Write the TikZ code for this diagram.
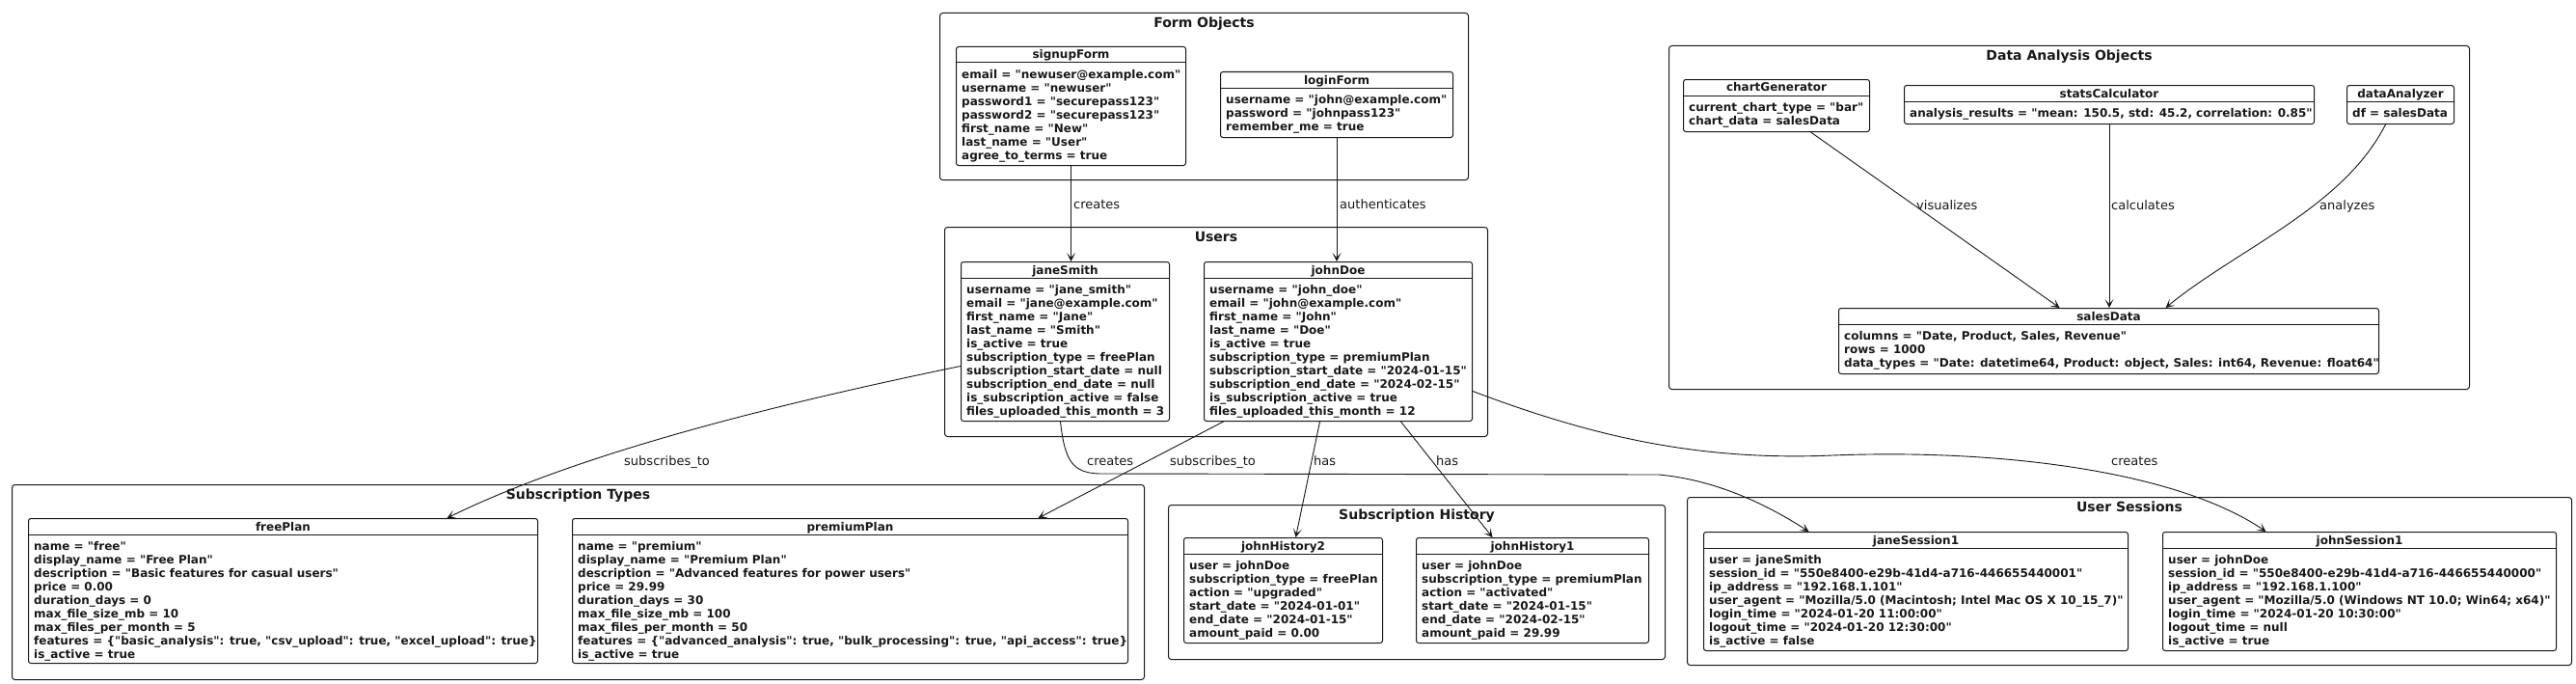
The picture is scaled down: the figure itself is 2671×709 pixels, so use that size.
\documentclass[tikz,border=0pt]{standalone}
\usepackage{fontspec}
\setmainfont{DejaVu Sans}[Ligatures=TeXOff]
\usetikzlibrary{arrows.meta}
\definecolor{ink}{HTML}{181818}
\tikzset{
 pkg/.style={draw=ink, line width=1pt, rounded corners=3pt, inner sep=0pt},
 objbox/.style={draw=ink, line width=1pt, rounded corners=2.5pt, inner sep=0pt, fill=white},
 objline/.style={draw=ink, line width=1pt},
 objhead/.style={font=\fontsize{12}{14}\selectfont\bfseries, inner sep=0pt, anchor=base, text=ink},
 objattr/.style={font=\fontsize{12}{14}\selectfont\bfseries, inner sep=0pt, align=left, anchor=north west, text=ink},
 pkgtitle/.style={font=\fontsize{14}{16}\selectfont\bfseries, inner sep=0pt, anchor=base, text=ink},
 conn/.style={draw=ink, line width=0.9pt, -{Stealth[length=9pt,width=9pt,inset=5pt]}},
 lbl/.style={font=\fontsize{13}{15}\selectfont, inner sep=0pt, anchor=base west, text=ink},
}
\newcommand{\umlobj}[7]{%
 \node[objbox, anchor=north west, minimum width=#4pt-#2pt, minimum height=#5pt-#3pt] (#1) at (#2,#3) {};
 \draw[objline] ([yshift=-17pt]#1.north west) -- ([yshift=-17pt]#1.north east);
 \node[objhead] (#1-head) at ([yshift=-13pt]#1.north) {#6};
 \node[objattr] (#1-attr) at ([xshift=6pt,yshift=-23pt]#1.north west) {\rule{0pt}{10pt}#7};
}
\newcommand{\umlpkg}[6]{%
 \node[pkg, anchor=north west, minimum width=#4pt-#2pt, minimum height=#5pt-#3pt] (#1) at (#2,#3) {};
 \node[pkgtitle] (#1-title) at ([yshift=-15.5pt]#1.north) {#6};
}
\begin{document}
\begin{tikzpicture}[x=1pt,y=-1pt]
\fill[white] (0,0) rectangle (2671,709);
\useasboundingbox (0,0) rectangle (2671,709);

% ---------- Form Objects
\umlpkg{formPkg}{974}{13}{1522}{186}{Form Objects}
\umlobj{signupForm}{991}{48}{1229}{171}{signupForm}{email = "newuser@example.com"\\username = "newuser"\\password1 = "securepass123"\\password2 = "securepass123"\\first\_name = "New"\\last\_name = "User"\\agree\_to\_terms = true}
\umlobj{loginForm}{1265}{74}{1506}{142}{loginForm}{username = "john@example.com"\\password = "johnpass123"\\remember\_me = true}

% ---------- Users
\umlpkg{usersPkg}{979}{235}{1542}{452}{Users}
\umlobj{janeSmith}{996}{271}{1212}{436}{janeSmith}{username = "jane\_smith"\\email = "jane@example.com"\\first\_name = "Jane"\\last\_name = "Smith"\\is\_active = true\\subscription\_type = freePlan\\subscription\_start\_date = null\\subscription\_end\_date = null\\is\_subscription\_active = false\\files\_uploaded\_this\_month = 3}
\umlobj{johnDoe}{1248}{271}{1526}{436}{johnDoe}{username = "john\_doe"\\email = "john@example.com"\\first\_name = "John"\\last\_name = "Doe"\\is\_active = true\\subscription\_type = premiumPlan\\subscription\_start\_date = "2024-01-15"\\subscription\_end\_date = "2024-02-15"\\is\_subscription\_active = true\\files\_uploaded\_this\_month = 12}

% ---------- Data Analysis Objects
\umlpkg{dataPkg}{1730}{47}{2560}{403}{Data Analysis Objects}
\umlobj{chartGenerator}{1745}{82}{1938}{136}{chartGenerator}{current\_chart\_type = "bar"\\chart\_data = salesData}
\umlobj{statsCalculator}{1974}{88}{2399}{128}{statsCalculator}{analysis\_results = "mean: 150.5, std: 45.2, correlation: 0.85"}
\umlobj{dataAnalyzer}{2433}{88}{2544}{128}{dataAnalyzer}{df = salesData}
\umlobj{salesData}{1906}{319}{2466}{387}{salesData}{columns = "Date, Product, Sales, Revenue"\\rows = 1000\\data\_types = "Date: datetime64, Product: object, Sales: int64, Revenue: float64"}

% ---------- Subscription Types
\umlpkg{typesPkg}{12}{502}{1186}{704}{Subscription Types}
\umlobj{freePlan}{29}{537}{557}{687}{freePlan}{name = "free"\\display\_name = "Free Plan"\\description = "Basic features for casual users"\\price = 0.00\\duration\_days = 0\\max\_file\_size\_mb = 10\\max\_files\_per\_month = 5\\features = \{"basic\_analysis": true, "csv\_upload": true, "excel\_upload": true\}\\is\_active = true}
\umlobj{premiumPlan}{593}{537}{1169}{687}{premiumPlan}{name = "premium"\\display\_name = "Premium Plan"\\description = "Advanced features for power users"\\price = 29.99\\duration\_days = 30\\max\_file\_size\_mb = 100\\max\_files\_per\_month = 50\\features = \{"advanced\_analysis": true, "bulk\_processing": true, "api\_access": true\}\\is\_active = true}

% ---------- Subscription History
\umlpkg{historyPkg}{1211}{523}{1726}{683}{Subscription History}
\umlobj{johnHistory2}{1227}{557}{1433}{666}{johnHistory2}{user = johnDoe\\subscription\_type = freePlan\\action = "upgraded"\\start\_date = "2024-01-01"\\end\_date = "2024-01-15"\\amount\_paid = 0.00}
\umlobj{johnHistory1}{1468}{557}{1709}{666}{johnHistory1}{user = johnDoe\\subscription\_type = premiumPlan\\action = "activated"\\start\_date = "2024-01-15"\\end\_date = "2024-02-15"\\amount\_paid = 29.99}

% ---------- User Sessions
\umlpkg{sessionsPkg}{1749}{515}{2666}{689}{User Sessions}
\umlobj{janeSession1}{1766}{551}{2206}{674}{janeSession1}{user = janeSmith\\session\_id = "550e8400-e29b-41d4-a716-446655440001"\\ip\_address = "192.168.1.101"\\user\_agent = "Mozilla/5.0 (Macintosh; Intel Mac OS X 10\_15\_7)"\\login\_time = "2024-01-20 11:00:00"\\logout\_time = "2024-01-20 12:30:00"\\is\_active = false}
\umlobj{johnSession1}{2242}{551}{2650}{674}{johnSession1}{user = johnDoe\\session\_id = "550e8400-e29b-41d4-a716-446655440000"\\ip\_address = "192.168.1.100"\\user\_agent = "Mozilla/5.0 (Windows NT 10.0; Win64; x64)"\\login\_time = "2024-01-20 10:30:00"\\logout\_time = null\\is\_active = true}

% ---------- Connectors
\draw[conn] (signupForm.south) -- (signupForm.south |- janeSmith.north);
\node[lbl] (lblCreatesA) at (1113,216) {creates};
\draw[conn] (loginForm.south) -- (loginForm.south |- johnDoe.north);
\node[lbl] (lblAuth) at (1389,216) {authenticates};

\draw[conn] ([yshift=-25.5pt]janeSmith.west) .. controls (800,420) and (600,470) .. ([xshift=170pt]freePlan.north);
\node[lbl] (lblSubA) at (647,482) {subscribes\_to};

\draw[conn] ([xshift=-5pt]janeSmith.south) .. controls (1104,478) and (1112,490) .. (1140,491) -- (1720,492) .. controls (1785,498) and (1840,528) .. ([xshift=-111pt]janeSession1.north);
\node[lbl] (lblCreatesB) at (1127,482) {creates};

\draw[conn] ([xshift=-119pt]johnDoe.south) -- ([xshift=195pt]premiumPlan.north);
\node[lbl] (lblSubB) at (1213,482) {subscribes\_to};

\draw[conn] ([xshift=-19pt]johnDoe.south) -- ([xshift=13pt]johnHistory2.north);
\node[lbl] (lblHasA) at (1362,482) {has};
\draw[conn] ([xshift=65pt]johnDoe.south) -- ([xshift=-41.5pt]johnHistory1.north);
\node[lbl] (lblHasB) at (1489,482) {has};

\draw[conn] ([yshift=-51.5pt]johnDoe.east) .. controls (1650,452) and (1760,478) .. (1900,472) .. controls (2080,465) and (2260,490) .. ([xshift=-97pt]johnSession1.north);
\node[lbl] (lblCreatesC) at (2189,482) {creates};

\draw[conn] ([xshift=35.5pt]chartGenerator.south) -- ([xshift=-51pt]salesData.north);
\node[lbl] (lblVis) at (1987,217) {visualizes};
\draw[conn] (statsCalculator.south) -- (statsCalculator.south |- salesData.north);
\node[lbl] (lblCalc) at (2189,217) {calculates};
\draw[conn] ([xshift=-15.5pt]dataAnalyzer.south) .. controls (2430,215) and (2320,258) .. ([xshift=59pt]salesData.north);
\node[lbl] (lblAna) at (2405,217) {analyzes};
\end{tikzpicture}
\end{document}
